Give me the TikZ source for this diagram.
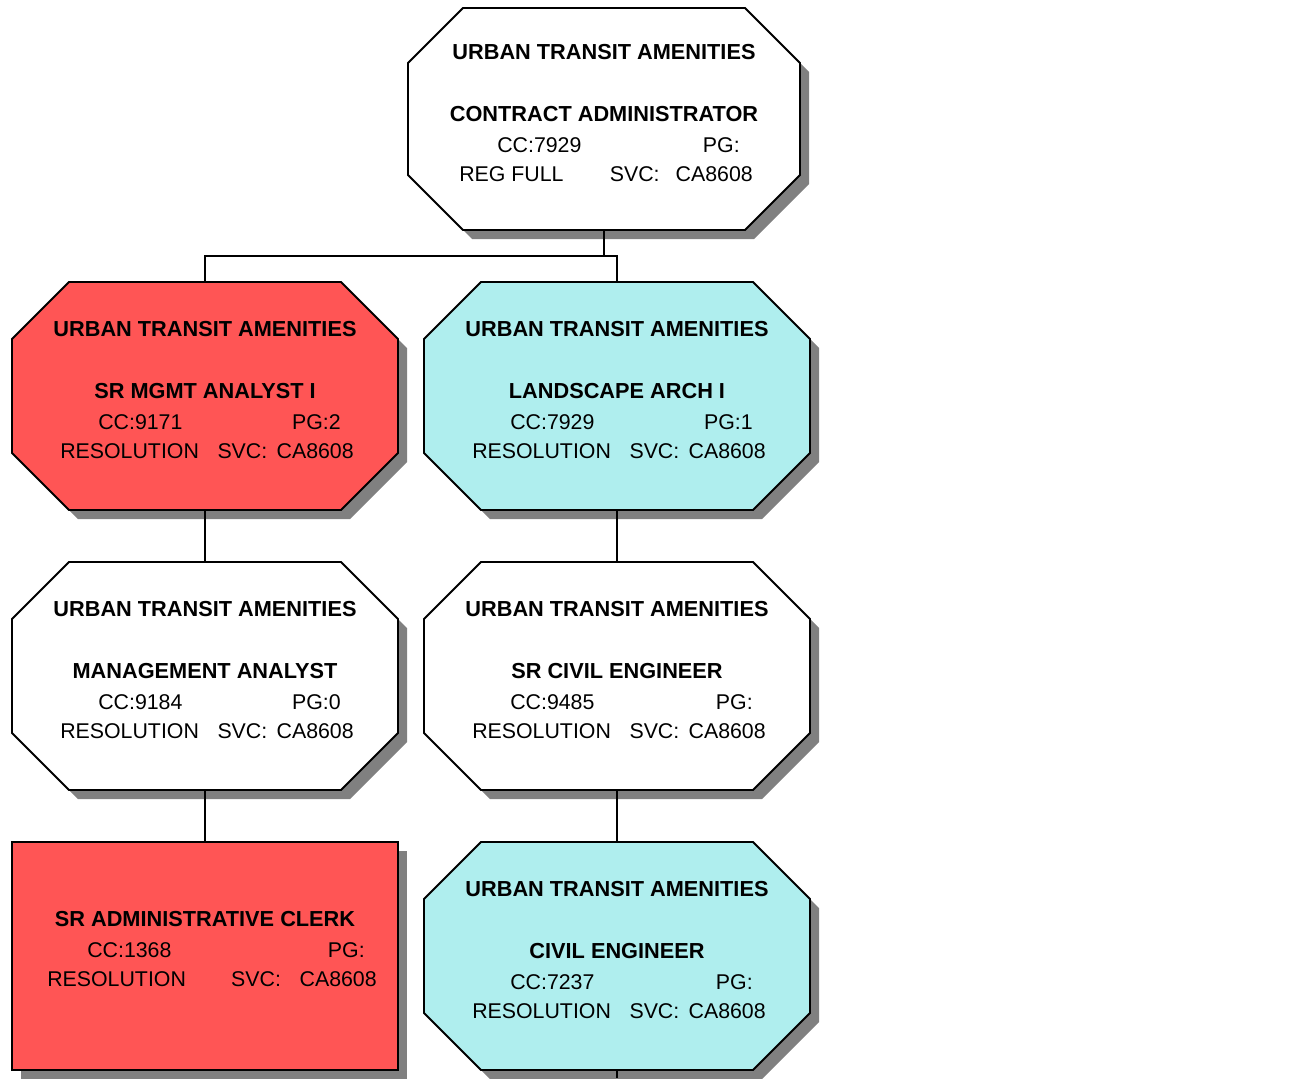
\documentclass[tikz,border=0pt]{standalone}
\usepackage{fontspec}
\setmainfont{Liberation Sans}
\usetikzlibrary{positioning, calc, shadows}
\definecolor{postred}{HTML}{FF5555}
\definecolor{postcyan}{HTML}{AFEEEE}
\definecolor{shadowgray}{HTML}{808080}
\tikzset{
  postframe/.style = {rectangle, inner sep=0pt, outer sep=0pt,
                      minimum width=289.5pt, minimum height=171pt},
  topframe/.style  = {postframe, minimum width=294pt, minimum height=166.5pt},
  boxline/.style   = {draw, line width=1.4pt,
                      drop shadow={shadow xshift=6.75pt, shadow yshift=-6.75pt,
                                   fill=shadowgray, opacity=1}},
  clerkbox/.style  = {postframe, boxline},
  headline/.style  = {font=\fontsize{16.3}{19}\selectfont\bfseries, inner sep=0pt,
                      anchor=base},
  infoline/.style  = {font=\fontsize{16}{19}\selectfont, inner sep=0pt},
  link/.style      = {line width=1.4pt},
}
% octagon round a frame node: #1 node, #2 fill, #3 corner cut
\newcommand{\octframe}[3]{%
  \path[boxline, fill=#2]
    ($(#1.north west)+(#3,0)$) -- ($(#1.north east)+(-#3,0)$)
    -- ($(#1.north east)+(0,#3)$) -- ($(#1.south east)+(0,-#3)$)
    -- ($(#1.south east)+(-#3,0)$) -- ($(#1.south west)+(#3,0)$)
    -- ($(#1.south west)+(0,-#3)$) -- ($(#1.north west)+(0,#3)$) -- cycle;
}
% the four text lines of a post, placed from the frame centre
\newcommand{\postlines}[6]{%
  \node[headline] (#1-org) at ($(#1.center)+(0,-60)$) {URBAN TRANSIT AMENITIES};
  \node[headline] (#1-title) at ($(#1.center)+(0,2)$) {#2};
  \node[infoline, anchor=base west] (#1-cc) at ($(#1.center)+(-107,33)$) {CC:#3};
  \node[infoline, anchor=base east] (#1-pg) at ($(#1.center)+(136,33)$) {PG:#4};
  \node[infoline, anchor=base west] (#1-status) at ($(#1.center)+(-145,62)$) {#5};
  \node[infoline, anchor=base east] (#1-svc) at ($(#1.center)+(149,62)$)
    {SVC:\hspace{#6}CA8608};
}

\begin{document}
\begin{tikzpicture}[x=0.75pt, y=-0.75pt]
  \useasboundingbox (0,0) rectangle (1294,1078);

  \node[topframe] (admin) at (604,119) {};
  \node[postframe] (mgmt1) at (205,396) {};
  \node[postframe] (land) at (617,396) {};
  \node[postframe, below=39pt of mgmt1] (mgmt) {};
  \node[postframe, below=39pt of land] (srcivil) {};
  \node[clerkbox, fill=postred, below=39pt of mgmt] (clerk) {};
  \node[postframe, below=39pt of srcivil] (civil) {};

  \octframe{admin}{white}{55}
  \octframe{mgmt1}{postred}{57}
  \octframe{land}{postcyan}{57}
  \octframe{mgmt}{white}{57}
  \octframe{srcivil}{white}{57}
  \octframe{civil}{postcyan}{57}

  \postlines{admin}{CONTRACT ADMINISTRATOR}{7929}{}{REG FULL}{12pt}
  \postlines{mgmt1}{SR MGMT ANALYST I}{9171}{2}{RESOLUTION}{7pt}
  \postlines{land}{LANDSCAPE ARCH I}{7929}{1}{RESOLUTION}{7pt}
  \postlines{mgmt}{MANAGEMENT ANALYST}{9184}{0}{RESOLUTION}{7pt}
  \postlines{srcivil}{SR CIVIL ENGINEER}{9485}{}{RESOLUTION}{7pt}
  \postlines{civil}{CIVIL ENGINEER}{7237}{}{RESOLUTION}{7pt}

  \node[headline] (clerk-title) at ($(clerk.center)+(0,-30)$) {SR ADMINISTRATIVE CLERK};
  \node[infoline, anchor=base west] (clerk-cc) at ($(clerk.center)+(-118,1)$) {CC:1368};
  \node[infoline, anchor=base east] (clerk-pg) at ($(clerk.center)+(160,1)$) {PG:};
  \node[infoline, anchor=base west] (clerk-status) at ($(clerk.center)+(-158,30)$) {RESOLUTION};
  \node[infoline, anchor=base east] (clerk-svc) at ($(clerk.center)+(172,30)$)
    {SVC:\hspace{14pt}CA8608};

  % connectors
  \coordinate (bus) at ($(admin.south)+(0,26)$);
  \coordinate (more) at (civil.south |- 0,1078);
  \draw[link] (admin.south) -- (bus) -| (mgmt1.north);
  \draw[link] (bus) -| (land.north);
  \draw[link] (mgmt1.south) -- (mgmt.north);
  \draw[link] (mgmt.south) -- (clerk.north);
  \draw[link] (land.south) -- (srcivil.north);
  \draw[link] (srcivil.south) -- (civil.north);
  \draw[link] (civil.south) -- (more);
\end{tikzpicture}
\end{document}
